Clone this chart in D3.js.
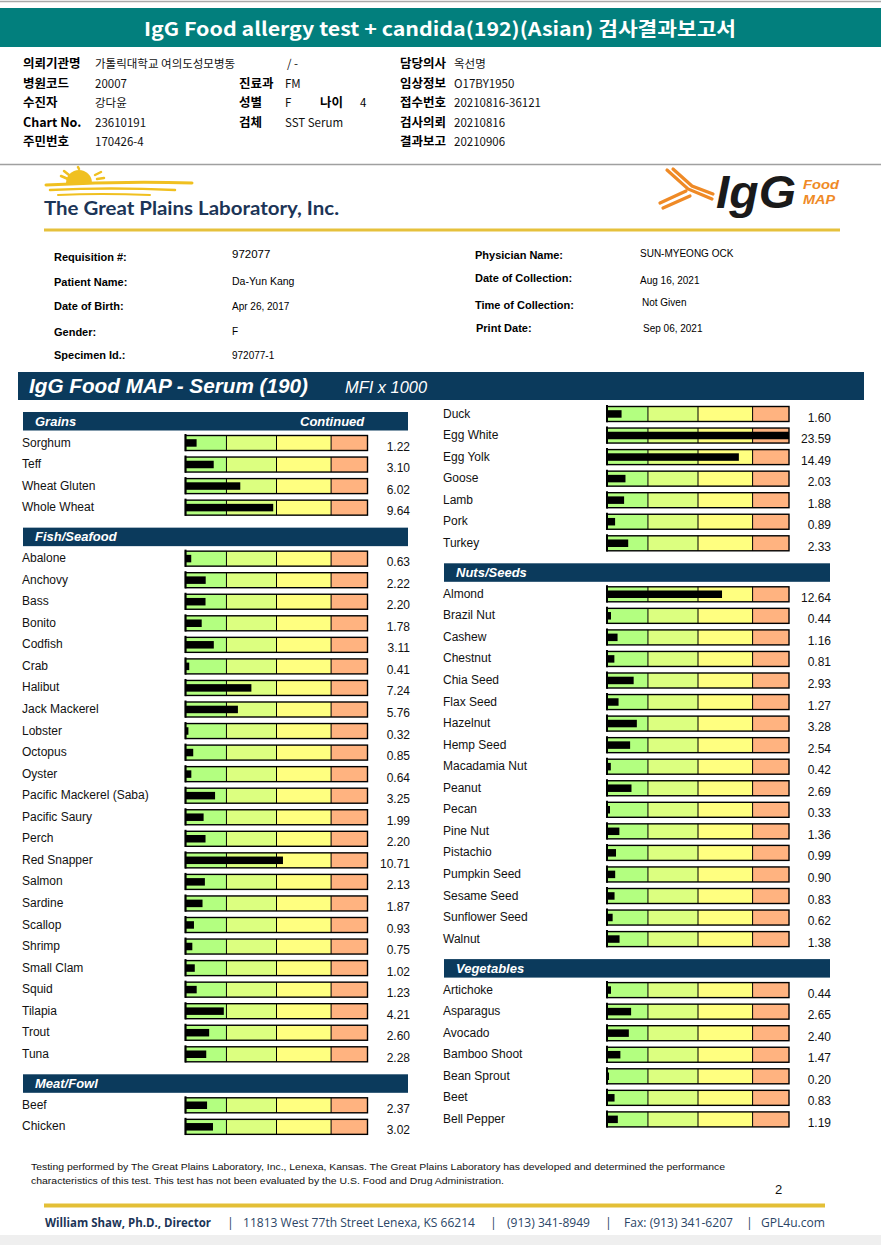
<!DOCTYPE html>
<html>
<head>
<meta charset="utf-8">
<script src="https://cdn.jsdelivr.net/npm/d3@7"></script>
<style>
  html, body { margin: 0; padding: 0; background: #fff; }
  svg { display: block; }
</style>
</head>
<body>
<svg id="chart"></svg>
<script>
const W = 881, H = 1245;

// ---- report header data ----
const reportTitle = "IgG Food allergy test + candida(192)(Asian) 검사결과보고서";
const infoRows = [
  [["의뢰기관명", "가톨릭대학교 여의도성모병동"], ["", "/ -"], ["담당의사", "옥선명"]],
  [["병원코드", "20007"], ["진료과", "FM"], ["임상정보", "O17BY1950"]],
  [["수진자", "강다윤"], ["성별", "F"], ["접수번호", "20210816-36121"]],
  [["Chart No.", "23610191"], ["검체", "SST Serum"], ["검사의뢰", "20210816"]],
  [["주민번호", "170426-4"], ["", ""], ["결과보고", "20210906"]]
];
const patientLeft = [
  ["Requisition #:", "972077"],
  ["Patient Name:", "Da-Yun Kang"],
  ["Date of Birth:", "Apr 26, 2017"],
  ["Gender:", "F"],
  ["Specimen Id.:", "972077-1"]
];
const patientRight = [
  ["Physician Name:", "SUN-MYEONG OCK"],
  ["Date of Collection:", "Aug 16, 2021"],
  ["Time of Collection:", "Not Given"],
  ["Print Date:", "Sep 06, 2021"]
];

// ---- IgG values (MFI x 1000) ----
const grains = [["Sorghum", 1.22], ["Teff", 3.10], ["Wheat Gluten", 6.02], ["Whole Wheat", 9.64]];
const fish = [
  ["Abalone", 0.63], ["Anchovy", 2.22], ["Bass", 2.20], ["Bonito", 1.78], ["Codfish", 3.11],
  ["Crab", 0.41], ["Halibut", 7.24], ["Jack Mackerel", 5.76], ["Lobster", 0.32], ["Octopus", 0.85],
  ["Oyster", 0.64], ["Pacific Mackerel (Saba)", 3.25], ["Pacific Saury", 1.99], ["Perch", 2.20],
  ["Red Snapper", 10.71], ["Salmon", 2.13], ["Sardine", 1.87], ["Scallop", 0.93], ["Shrimp", 0.75],
  ["Small Clam", 1.02], ["Squid", 1.23], ["Tilapia", 4.21], ["Trout", 2.60], ["Tuna", 2.28]
];
const meat = [["Beef", 2.37], ["Chicken", 3.02]];
const meatCont = [
  ["Duck", 1.60], ["Egg White", 23.59], ["Egg Yolk", 14.49], ["Goose", 2.03],
  ["Lamb", 1.88], ["Pork", 0.89], ["Turkey", 2.33]
];
const nuts = [
  ["Almond", 12.64], ["Brazil Nut", 0.44], ["Cashew", 1.16], ["Chestnut", 0.81], ["Chia Seed", 2.93],
  ["Flax Seed", 1.27], ["Hazelnut", 3.28], ["Hemp Seed", 2.54], ["Macadamia Nut", 0.42],
  ["Peanut", 2.69], ["Pecan", 0.33], ["Pine Nut", 1.36], ["Pistachio", 0.99], ["Pumpkin Seed", 0.90],
  ["Sesame Seed", 0.83], ["Sunflower Seed", 0.62], ["Walnut", 1.38]
];
const vegetables = [
  ["Artichoke", 0.44], ["Asparagus", 2.65], ["Avocado", 2.40], ["Bamboo Shoot", 1.47],
  ["Bean Sprout", 0.20], ["Beet", 0.83], ["Bell Pepper", 1.19]
];

// reference zones of the gauge
const zoneEdges = [0, 4.5, 10, 16, 20];
const zoneColors = ["#b3ff80", "#dcff80", "#ffff80", "#ffb380"];

const navy = "#0b3a5c";
const sans = "'Liberation Sans', Arial, sans-serif";
const kr = "'Noto Sans CJK KR', sans-serif";

const svg = d3.select("#chart").attr("width", W).attr("height", H)
  .style("background", "#fff");

// page edges
svg.append("rect").attr("x", 0).attr("y", 1235).attr("width", W).attr("height", 10).attr("fill", "#efefef");
svg.append("line").attr("x1", 0).attr("x2", W).attr("y1", 1.5).attr("y2", 1.5)
  .attr("stroke", "#a8a8a8").attr("stroke-width", 1.5);
svg.append("line").attr("x1", 0).attr("x2", W).attr("y1", 164.5).attr("y2", 164.5)
  .attr("stroke", "#a0a0a0").attr("stroke-width", 1.5);

// teal title bar
svg.append("rect").attr("x", 0).attr("y", 8).attr("width", W).attr("height", 39).attr("fill", "#027f7d");
svg.append("text").attr("x", 144).attr("y", 36)
  .attr("textLength", 592).attr("lengthAdjust", "spacingAndGlyphs")
  .style("font-family", kr).style("font-weight", "bold").style("font-size", "19px")
  .attr("fill", "#fff").text(reportTitle);

// korean info block
const infoCols = [[23, 95], [239, 285], [400, 454]];
const infoY = [67.5, 87.5, 106.5, 126.5, 145.5];
infoRows.forEach((row, r) => {
  row.forEach((cell, c) => {
    const [lab, val] = cell;
    svg.append("text").attr("x", infoCols[c][0]).attr("y", infoY[r])
      .style("font-family", kr).style("font-weight", "bold").style("font-size", "12.5px")
      .attr("fill", "#000").text(lab);
    const vx = (r === 0 && c === 1) ? 287 : infoCols[c][1];
    svg.append("text").attr("x", vx).attr("y", infoY[r])
      .style("font-family", kr).style("font-size", "11.5px").attr("fill", "#111").text(val);
  });
});
// age
svg.append("text").attr("x", 320).attr("y", infoY[2])
  .style("font-family", kr).style("font-weight", "bold").style("font-size", "12.5px").text("나이");
svg.append("text").attr("x", 360).attr("y", infoY[2])
  .style("font-family", kr).style("font-size", "11.5px").text("4");

// ---- lab logo ----
const gold = "#f0c020";
const logo = svg.append("g");
logo.append("path")
  .attr("d", d3.arc()({innerRadius: 0, outerRadius: 13, startAngle: -Math.PI / 2, endAngle: Math.PI / 2}))
  .attr("transform", "translate(79,183)").attr("fill", gold);
[[61, 176, 68, 179], [64, 171, 69, 175], [95, 175, 101, 172], [97, 179, 104, 178], [78, 167, 79, 169]]
  .forEach(s => logo.append("line").attr("x1", s[0]).attr("y1", s[1]).attr("x2", s[2]).attr("y2", s[3])
    .attr("stroke", gold).attr("stroke-width", 2.5).attr("stroke-linecap", "round"));
[["M46,185 Q120,181 192,183", 3], ["M50,190 Q110,187 175,190", 2.5], ["M58,195 Q100,193 150,195", 2]]
  .forEach(p => logo.append("path").attr("d", p[0]).attr("fill", "none")
    .attr("stroke", gold).attr("stroke-width", p[1]).attr("stroke-linecap", "round"));
svg.append("text").attr("x", 44).attr("y", 215)
  .attr("textLength", 295).attr("lengthAdjust", "spacingAndGlyphs")
  .style("font-family", "Lato, 'Open Sans', sans-serif").style("font-weight", "bold").style("font-size", "19px")
  .attr("fill", "#1c3557").text("The Great Plains Laboratory, Inc.");

// IgG Food MAP logo
const orange = "#ef8a26";
const ab = svg.append("g").attr("fill", "none").attr("stroke", orange).attr("stroke-width", 3.2)
  .attr("stroke-linecap", "round");
ab.append("path").attr("d", "M667,170 L688,189 L712,199");
ab.append("path").attr("d", "M673,169 L692,186 L713,194");
ab.append("path").attr("d", "M660,203 L686,191");
ab.append("path").attr("d", "M663,208 L690,196");
svg.append("text").attr("x", 716).attr("y", 208)
  .attr("textLength", 80).attr("lengthAdjust", "spacingAndGlyphs")
  .style("font-family", sans).style("font-weight", "bold").style("font-style", "italic").style("font-size", "46px")
  .attr("fill", "#1a1a1a").text("IgG");
svg.append("text").attr("x", 803).attr("y", 189)
  .attr("textLength", 36).attr("lengthAdjust", "spacingAndGlyphs")
  .style("font-family", sans).style("font-style", "italic").style("font-weight", "bold").style("font-size", "13px")
  .attr("fill", orange).text("Food");
svg.append("text").attr("x", 803).attr("y", 204)
  .attr("textLength", 32).attr("lengthAdjust", "spacingAndGlyphs")
  .style("font-family", sans).style("font-style", "italic").style("font-weight", "bold").style("font-size", "13px")
  .attr("fill", orange).text("MAP");

svg.append("line").attr("x1", 44).attr("x2", 840).attr("y1", 230).attr("y2", 230)
  .attr("stroke", "#e6c13c").attr("stroke-width", 3);

// patient block
const pLeftY = [261, 286, 310, 336, 359];
const pLeftValY = [258, 285, 310, 335, 359];
patientLeft.forEach((d, i) => {
  svg.append("text").attr("x", 54).attr("y", pLeftY[i])
    .style("font-family", sans).style("font-weight", "bold").style("font-size", "11px").text(d[0]);
  svg.append("text").attr("x", 232).attr("y", pLeftValY[i])
    .style("font-family", sans).style("font-size", i === 0 ? "11.5px" : (i === 1 ? "10.5px" : "10px")).text(d[1]);
});
const pRightY = [259, 282, 309, 332];
const pRightValY = [257, 284, 306, 332];
const pRightValX = [640, 640, 642, 643];
patientRight.forEach((d, i) => {
  svg.append("text").attr("x", i === 3 ? 476 : 475).attr("y", pRightY[i])
    .style("font-family", sans).style("font-weight", "bold").style("font-size", "11px").text(d[0]);
  svg.append("text").attr("x", pRightValX[i]).attr("y", pRightValY[i])
    .style("font-family", sans).style("font-size", "10px").text(d[1]);
});

// main banner
svg.append("rect").attr("x", 18).attr("y", 372).attr("width", 846).attr("height", 28).attr("fill", navy);
svg.append("text").attr("x", 29).attr("y", 393)
  .attr("textLength", 279).attr("lengthAdjust", "spacingAndGlyphs")
  .style("font-family", sans).style("font-weight", "bold").style("font-style", "italic").style("font-size", "20px")
  .attr("fill", "#fff").text("IgG Food MAP - Serum (190)");
svg.append("text").attr("x", 345).attr("y", 393)
  .attr("textLength", 82).attr("lengthAdjust", "spacingAndGlyphs")
  .style("font-family", sans).style("font-style", "italic").style("font-size", "16px")
  .attr("fill", "#fff").text("MFI x 1000");

// ---- gauges ----
const BOX_W = 182, BOX_H = 15, ROW = 21.55;
const x = d3.scaleLinear().domain([0, 20]).range([0, BOX_W]).clamp(true);

const columns = [
  {labelX: 22, boxX: 185.5, valX: 410, headX: 23, headW: 385, startY: 412, groups: [
    {title: "Grains", cont: true, items: grains},
    {title: "Fish/Seafood", items: fish},
    {title: "Meat/Fowl", items: meat}
  ]},
  {labelX: 443, boxX: 607, valX: 831, headX: 444, headW: 386, startY: 414, groups: [
    {title: null, items: meatCont},
    {title: "Nuts/Seeds", items: nuts},
    {title: "Vegetables", items: vegetables}
  ]}
];

columns.forEach(col => {
  let y = col.startY;
  col.groups.forEach(grp => {
    let first = y;
    if (grp.title) {
      const hg = svg.append("g");
      hg.append("rect").attr("x", col.headX).attr("y", y).attr("width", col.headW).attr("height", 18.5)
        .attr("fill", navy);
      hg.append("text").attr("x", col.headX + 12).attr("y", y + 13.5)
        .style("font-family", sans).style("font-weight", "bold").style("font-style", "italic")
        .style("font-size", "13px").attr("fill", "#fff").text(grp.title);
      if (grp.cont) {
        hg.append("text").attr("x", 300).attr("y", y + 14)
          .style("font-family", sans).style("font-weight", "bold").style("font-style", "italic")
          .style("font-size", "13px").attr("fill", "#fff").text("Continued");
      }
      first = y + 31;
    }
    const rows = svg.append("g").selectAll("g.row")
      .data(grp.items).join("g").attr("class", "row")
      .attr("transform", (d, i) => `translate(0,${first + i * ROW})`);

    rows.append("text").attr("x", col.labelX).attr("y", 3.5)
      .style("font-family", sans).style("font-size", "12px").attr("fill", "#111").text(d => d[0]);

    const box = rows.append("g").attr("transform", `translate(${col.boxX},${-BOX_H / 2})`);
    box.selectAll("rect.zone")
      .data(zoneColors.map((c, i) => ({c, a: zoneEdges[i], b: zoneEdges[i + 1]})))
      .join("rect").attr("class", "zone")
      .attr("x", z => x(z.a)).attr("width", z => x(z.b) - x(z.a))
      .attr("y", 0).attr("height", BOX_H).attr("fill", z => z.c);
    box.selectAll("line.div").data(zoneEdges.slice(1, -1)).join("line").attr("class", "div")
      .attr("x1", e => x(e)).attr("x2", e => x(e)).attr("y1", 0).attr("y2", BOX_H)
      .attr("stroke", "#000").attr("stroke-width", 1);
    box.append("rect").attr("width", BOX_W).attr("height", BOX_H)
      .attr("fill", "none").attr("stroke", "#000").attr("stroke-width", 1.4);
    box.append("line").attr("x1", 0).attr("x2", 0).attr("y1", -1.5).attr("y2", BOX_H + 0.7)
      .attr("stroke", "#000").attr("stroke-width", 2);
    box.append("rect").attr("x", 0).attr("y", BOX_H / 2 - 3.8)
      .attr("width", d => Math.max(2, x(d[1]))).attr("height", 7.5).attr("fill", "#000");

    rows.append("text").attr("x", col.valX).attr("y", 7.5).attr("text-anchor", "end")
      .style("font-family", sans).style("font-size", "12px").attr("fill", "#111")
      .text(d => d[1].toFixed(2));

    y = first + (grp.items.length - 1) * ROW + 20;
  });
});

// ---- footer ----
const note1 = "Testing performed by The Great Plains Laboratory, Inc., Lenexa, Kansas.  The Great Plains Laboratory has developed and determined the performance";
const note2 = "characteristics of this test.  This test has not been evaluated by the U.S.  Food and Drug Administration.";
svg.append("text").attr("x", 31).attr("y", 1170).attr("textLength", 694).attr("lengthAdjust", "spacingAndGlyphs")
  .style("font-family", sans).style("font-size", "9.5px").attr("fill", "#111").text(note1);
svg.append("text").attr("x", 31).attr("y", 1184).attr("textLength", 473).attr("lengthAdjust", "spacingAndGlyphs")
  .style("font-family", sans).style("font-size", "9.5px").attr("fill", "#111").text(note2);
svg.append("text").attr("x", 775).attr("y", 1194)
  .style("font-family", sans).style("font-size", "13px").attr("fill", "#111").text("2");

svg.append("line").attr("x1", 44).attr("x2", 825).attr("y1", 1205.5).attr("y2", 1205.5)
  .attr("stroke", "#e3bf36").attr("stroke-width", 4);

const footParts = [
  [45, 211, "William Shaw, Ph.D., Director", true],
  [227, 0, "|", false],
  [243, 475, "11813 West 77th Street Lenexa, KS 66214", false],
  [490, 0, "|", false],
  [507, 590, "(913) 341-8949", false],
  [605, 0, "|", false],
  [624, 733, "Fax: (913) 341-6207", false],
  [746, 0, "|", false],
  [761, 825, "GPL4u.com", false]
];
footParts.forEach(p => {
  const t = svg.append("text").attr("x", p[0]).attr("y", 1226.5)
    .style("font-family", "'Open Sans', sans-serif").style("font-size", "12.5px")
    .style("font-weight", p[3] ? "bold" : "normal")
    .attr("fill", p[3] ? "#1c3557" : "#2b4566").text(p[2]);
  if (p[1]) t.attr("textLength", p[1] - p[0]).attr("lengthAdjust", "spacingAndGlyphs");
});
</script>
</body>
</html>
